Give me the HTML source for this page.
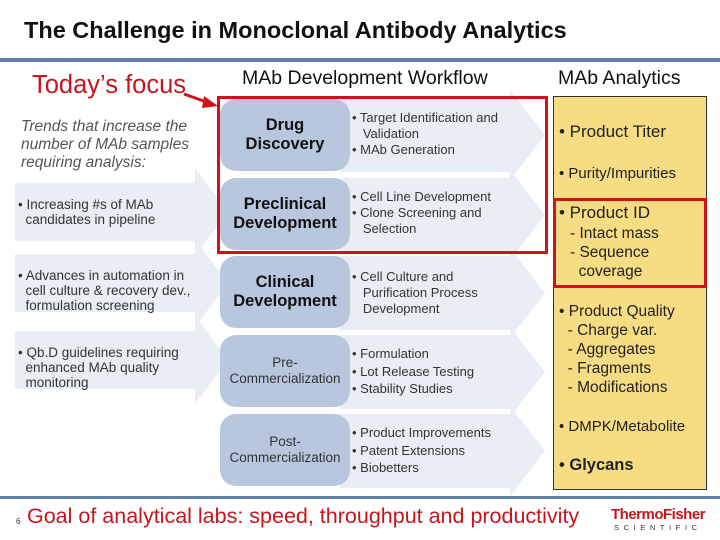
<!DOCTYPE html>
<html><head><meta charset="utf-8"><style>
*{margin:0;padding:0;box-sizing:border-box}
body{width:720px;height:540px;background:#fff;position:relative;overflow:hidden;font-family:"Liberation Sans",Arial,sans-serif;color:#222}
.a{position:absolute}
.box{position:absolute;left:220px;width:130px;height:72px;background:#b8c7dd;border-radius:16px;display:flex;align-items:center;justify-content:center;text-align:center;font-size:16.5px;font-weight:bold;color:#111;line-height:19px}
.box.s{font-size:13.5px;font-weight:normal;line-height:16px;color:#333}
.bl{position:absolute;left:352px;font-size:13px;line-height:16px;color:#333}
.lt{position:absolute;left:18px;font-size:13.5px;line-height:15px;color:#333}
.r{position:absolute;left:559px;font-size:15.5px;line-height:19px;color:#222}
</style></head><body>
<div class="a" style="left:24px;top:17px;font-size:23.5px;font-weight:bold;color:#111">The Challenge in Monoclonal Antibody Analytics</div>
<div class="a" style="left:0;top:58px;width:720px;height:4px;background:#5f7fa4"></div>
<svg class="a" style="left:0;top:0" width="720" height="540">
<g fill="#e9eef5">
<polygon points="15,183 195,183 195,168 228,212 195,256 195,241 15,241"/>
<polygon points="15,254 195,254 195,239 228,283 195,327 195,312 15,312"/>
<polygon points="15,331 195,331 195,316 228,360 195,404 195,389 15,389"/>
<polygon points="340,98 510,98 510,90 545,135 510,180 510,172 340,172"/>
<polygon points="340,178 510,178 510,170 545,215 510,260 510,252 340,252"/>
<polygon points="340,256 510,256 510,248 545,293 510,338 510,330 340,330"/>
<polygon points="340,335 510,335 510,327 545,372 510,417 510,409 340,409"/>
<polygon points="340,414 510,414 510,406 545,451 510,496 510,488 340,488"/>
</g>
<line x1="184" y1="94" x2="212" y2="104" stroke="#d0121b" stroke-width="3"/>
<polygon points="218,106 204,96 202,108" fill="#d0121b"/>
</svg>
<div class="a" style="left:32px;top:71px;font-size:25.5px;color:#c8151d">Today’s focus</div>
<div class="a" style="left:242px;top:67px;font-size:19.5px;color:#111">MAb Development Workflow</div>
<div class="a" style="left:558px;top:67px;font-size:19.5px;color:#111">MAb Analytics</div>
<div class="a" style="left:21px;top:118px;font-size:15.5px;line-height:18px;font-style:italic;color:#555">Trends that increase the<br>number of MAb samples<br>requiring analysis:</div>
<div class="lt" style="top:197px">• Increasing #s of MAb<br>&nbsp;&nbsp;candidates in pipeline</div>
<div class="lt" style="top:268px">• Advances in automation in<br>&nbsp;&nbsp;cell culture &amp; recovery dev.,<br>&nbsp;&nbsp;formulation screening</div>
<div class="lt" style="top:345px">• Qb.D guidelines requiring<br>&nbsp;&nbsp;enhanced MAb quality<br>&nbsp;&nbsp;monitoring</div>

<div class="box" style="top:99px">Drug<br>Discovery</div>
<div class="box" style="top:178px">Preclinical<br>Development</div>
<div class="box" style="top:256px">Clinical<br>Development</div>
<div class="box s" style="top:335px">Pre-<br>Commercialization</div>
<div class="box s" style="top:414px">Post-<br>Commercialization</div>

<div class="bl" style="top:110px">• Target Identification and<br>&nbsp;&nbsp;&nbsp;Validation<br>• MAb Generation</div>
<div class="bl" style="top:189px">• Cell Line Development<br>• Clone Screening and<br>&nbsp;&nbsp;&nbsp;Selection</div>
<div class="bl" style="top:269px">• Cell Culture and<br>&nbsp;&nbsp;&nbsp;Purification Process<br>&nbsp;&nbsp;&nbsp;Development</div>
<div class="bl" style="top:345px;line-height:17.5px">• Formulation<br>• Lot Release Testing<br>• Stability Studies</div>
<div class="bl" style="top:424px;line-height:17.5px">• Product Improvements<br>• Patent Extensions<br>• Biobetters</div>

<div class="a" style="left:217px;top:96px;width:331px;height:158px;border:3px solid #d0121b"></div>
<div class="a" style="left:553px;top:96px;width:154px;height:394px;background:#f6dc83;border:1px solid #333"></div>
<div class="a" style="left:553px;top:198px;width:154px;height:90px;border:3px solid #d0121b"></div>
<div class="r" style="top:122px;font-size:17px">• Product Titer</div>
<div class="r" style="top:164px;font-size:15px">• Purity/Impurities</div>
<div class="r" style="top:203px;font-size:17px;line-height:20px">• Product ID</div>
<div class="r" style="top:224px;left:570px">- Intact mass<br>- Sequence<br>&nbsp;&nbsp;coverage</div>
<div class="r" style="top:302px">• Product Quality<br>&nbsp;&nbsp;- Charge var.<br>&nbsp;&nbsp;- Aggregates<br>&nbsp;&nbsp;- Fragments<br>&nbsp;&nbsp;- Modifications</div>
<div class="r" style="top:417px;font-size:15px">• DMPK/Metabolite</div>
<div class="r" style="top:456px;font-size:16.5px;font-weight:bold">• Glycans</div>

<div class="a" style="left:0;top:496px;width:720px;height:3px;background:#5f7fa4"></div>
<div class="a" style="left:16px;top:517px;font-size:8px;color:#333">6</div>
<div class="a" style="left:27px;top:504px;font-size:21.5px;color:#c8151d">Goal of analytical labs: speed, throughput and productivity</div>
<div class="a" style="left:611px;top:506px;font-size:15px;font-weight:bold;color:#c8151d;letter-spacing:-0.5px">ThermoFisher</div>
<div class="a" style="left:614px;top:523px;font-size:7.5px;color:#333;letter-spacing:4.6px">SCIENTIFIC</div>
</body></html>
